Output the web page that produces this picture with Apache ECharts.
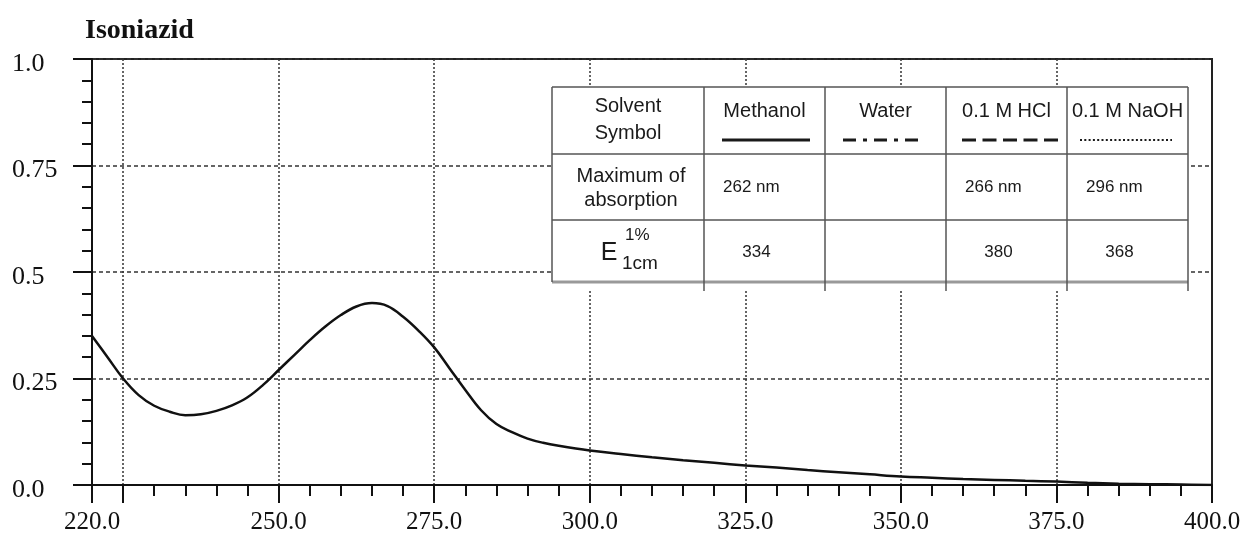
<!DOCTYPE html>
<html><head><meta charset="utf-8">
<script src="https://cdn.jsdelivr.net/npm/echarts@6/dist/echarts.min.js"></script>
<style>html,body{margin:0;padding:0;background:#fff}#c{width:1247px;height:535px}</style>
</head><body><div id="c"></div>
<script>
// ---- data ----
const wavelength = [220,222.5,225,227.5,230,232.5,235,237.5,240,242.5,245,247.5,250,252.5,255,257.5,260,262.5,265,267.5,270,272.5,275,277.5,280,282.5,285,287.5,290,292.5,295,300,305,310,315,320,325,330,335,340,345,350,355,360,365,370,375,380,385,390,395,400];
const absorbance = [0.350,0.300,0.250,0.211,0.186,0.172,0.164,0.166,0.174,0.187,0.206,0.235,0.270,0.305,0.340,0.372,0.399,0.419,0.427,0.420,0.395,0.362,0.323,0.273,0.223,0.176,0.143,0.124,0.109,0.099,0.092,0.081,0.073,0.065,0.058,0.052,0.046,0.041,0.035,0.030,0.025,0.020,0.017,0.014,0.012,0.010,0.008,0.005,0.003,0.002,0.001,0.000];
const xTickLabels = ['220.0','250.0','275.0','300.0','325.0','350.0','375.0','400.0'];
const xLabelValues = [220,250,275,300,325,350,375,400];
const xMajorTicks = [220,225,250,275,300,325,350,375,400];
const xGridLines = [225,250,275,300,325,350,375];
const yTickLabels = ['0.0','0.25','0.5','0.75','1.0'];
const solvents = ['Methanol','Water','0.1 M HCl','0.1 M NaOH'];
const maxAbsorption = ['262 nm','','266 nm','296 nm'];
const e1cm = ['334','','380','368'];
const symbolDash = [null,[13,7,4,7],[14,6.5],[2,2.3]];
const titleText = 'Isoniazid';

// category helper for tick positions every 5 nm
const xSteps = [];
for (let v = 220; v <= 400; v += 5) xSteps.push(String(v));

const chart = echarts.init(document.getElementById('c'), null, {renderer:'canvas'});

// ---- table graphic ----
const colX = [552,704,825,946,1067,1188];
const rowY = [87,154,220,282];
const tBottom = 291;
const ink = '#1a1a1a';
const sans = 'Liberation Sans, Arial, sans-serif';
const Z = 100;
const g = [];
g.push({type:'rect', z:Z, shape:{x:colX[0], y:rowY[0], width:colX[5]-colX[0], height:tBottom-rowY[0]}, style:{fill:'#fff'}});
function hline(y,stroke,w){ g.push({type:'line', z:Z+1, shape:{x1:colX[0],y1:y,x2:colX[5],y2:y}, style:{stroke:stroke,lineWidth:w}}); }
hline(rowY[0],'#555',1.5);
hline(rowY[1],'#555',1.5);
hline(rowY[2],'#555',1.5);
hline(rowY[3],'#999',3);
colX.forEach((x,i)=>{
  const yb = (i===0) ? rowY[3] : tBottom;
  g.push({type:'line', z:Z+1, shape:{x1:x,y1:rowY[0],x2:x,y2:yb}, style:{stroke:'#555',lineWidth:1.5}});
});
function txt(t,x,y,size,align){
  return {type:'text', z:Z+2, style:{text:t, x:x, y:y, font: size+'px '+sans, fill:ink, textAlign:align||'center', textVerticalAlign:'middle', align:align||'center', verticalAlign:'middle'}};
}
g.push(txt('Solvent', 628, 106, 20));
g.push(txt('Symbol', 628, 133, 20));
g.push(txt('Maximum of', 631, 176, 20));
g.push(txt('absorption', 631, 200, 20));
g.push(txt('E', 609, 253, 25));
g.push(txt('1%', 625, 235, 17, 'left'));
g.push(txt('1cm', 622, 264, 19, 'left'));
const symHalf = [44,38,48,46];
const symCx = [766,881,1010,1126];
solvents.forEach((s,i)=>{
  const cx = (colX[i+1]+colX[i+2])/2;
  g.push(txt(s, cx, 111, 20));
  const ls = {stroke:ink, lineWidth: i===3 ? 2 : 3};
  if (symbolDash[i]) ls.lineDash = symbolDash[i];
  g.push({type:'line', z:Z+2, shape:{x1:symCx[i]-symHalf[i],y1:140,x2:symCx[i]+symHalf[i],y2:140}, style:ls});
  if (maxAbsorption[i]) g.push(txt(maxAbsorption[i], colX[i+1]+19, 187, 17, 'left'));
  if (e1cm[i]) g.push(txt(e1cm[i], cx-8, 252, 17));
});

const serif = 'Liberation Serif, Times New Roman, serif';
const option = {
  animation:false,
  backgroundColor:'#fff',
  title:{text:titleText, left:80, top:12, textStyle:{fontFamily:serif, fontWeight:'bold', fontSize:28, color:'#111'}},
  grid:{left:92, right:35, top:59, bottom:50, show:true, borderColor:'#222', borderWidth:2, backgroundColor:'transparent'},
  xAxis:[
    {type:'value', min:220, max:400, interval:5, position:'bottom',
     axisLine:{show:true, onZero:false, lineStyle:{color:'#111', width:2}},
     axisTick:{show:true, length:11, lineStyle:{color:'#111', width:2}},
     axisLabel:{show:false}, splitLine:{show:false}},
    {type:'category', data:xSteps, boundaryGap:false, position:'bottom',
     axisLine:{show:false, onZero:false},
     axisTick:{show:true, length:18, interval:(i,v)=>xMajorTicks.includes(+v), lineStyle:{color:'#111', width:2}},
     axisLabel:{show:true, interval:(i,v)=>xLabelValues.includes(+v), formatter:(v)=>xTickLabels[xLabelValues.indexOf(+v)], margin:25, fontFamily:serif, fontSize:25, color:'#111'},
     splitLine:{show:true, interval:(i,v)=>xGridLines.includes(+v), lineStyle:{type:[2,2], color:'#333', width:1.5}}}
  ],
  yAxis:[
    {type:'value', min:0, max:1, interval:0.05, position:'left',
     axisLine:{show:true, onZero:false, lineStyle:{color:'#111', width:2}},
     axisTick:{show:true, length:10, lineStyle:{color:'#111', width:2}},
     axisLabel:{show:false}, splitLine:{show:false}},
    {type:'value', min:0, max:1, interval:0.25, position:'left',
     axisLine:{show:false, onZero:false},
     axisTick:{show:true, length:19, lineStyle:{color:'#111', width:2}},
     axisLabel:{show:true, formatter:(v,i)=>yTickLabels[i], align:'left', verticalAlign:'top', lineHeight:10, margin:80, fontFamily:serif, fontSize:26, color:'#111'},
     splitLine:{show:true, lineStyle:{type:[4,3], color:'#333', width:1.5}}}
  ],
  series:[{
    type:'line', xAxisIndex:0, yAxisIndex:0, smooth:0.4, showSymbol:false,
    lineStyle:{color:'#111', width:2.5},
    data: wavelength.map((w,i)=>[w, absorbance[i]]),
    z:3
  }],
  graphic:[{type:'group', z:Z, children:g}]
};
chart.setOption(option);
</script></body></html>
